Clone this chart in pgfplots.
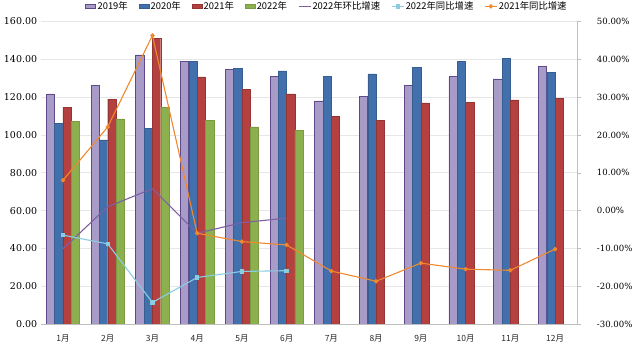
\documentclass[border=0pt]{standalone}
\usepackage{fontspec}
\setmainfont{DejaVu Serif}
\newfontfamily\cjk{Noto Sans CJK SC}
\usepackage{pgfplots}
\pgfplotsset{compat=1.18}
\definecolor{c19}{HTML}{A99BC8}
\definecolor{c19e}{HTML}{5E4A8A}
\definecolor{c20}{HTML}{4270AC}
\definecolor{c20e}{HTML}{365E91}
\definecolor{c21}{HTML}{B4413F}
\definecolor{c21e}{HTML}{953533}
\definecolor{c22}{HTML}{8DB04F}
\definecolor{c22e}{HTML}{7A9A43}
\definecolor{cpur}{HTML}{7D5FA3}
\definecolor{cblu}{HTML}{8ACCE0}
\definecolor{cora}{HTML}{F0892E}
\definecolor{gridc}{HTML}{E6E6E6}
\definecolor{axc}{HTML}{BFBFBF}
\pgfplotsset{
  barleg/.style={legend image code/.code={\draw[##1] (0bp,-2.2bp) rectangle (10bp,2.2bp);}},
  lineleg/.style={legend image code/.code={\draw[mark repeat=2,mark phase=2,##1] plot coordinates {(0bp,0bp)(6bp,0bp)(12bp,0bp)};}},
}
\begin{document}
\begin{tikzpicture}
\path[use as bounding box] (0,0) rectangle (644bp,351bp);
\begin{axis}[
  at={(40.6bp,27bp)}, anchor=south west,
  scale only axis, width=536.8bp, height=302.5bp,
  xmin=0.5, xmax=12.5, ymin=0, ymax=160,
  ybar=0pt, bar width=8.3bp,
  xtick={1,...,12},
  xticklabels={1月,2月,3月,4月,5月,6月,7月,8月,9月,10月,11月,12月},
  xticklabel style={font=\cjk\fontsize{8.5}{9}\selectfont, yshift=-3bp, text=black!85},
  ytick={0,20,...,160},
  /pgf/number format/assume math mode=true,
  yticklabel style={font=\fontsize{9.5}{10}\selectfont, /pgf/number format/.cd, fixed, fixed zerofill, precision=2},
  ymajorgrids, grid style={gridc, line width=0.6bp},
  axis x line*=bottom, axis y line*=left,
  x axis line style={axc, -},
  y axis line style={draw=none},
  tick style={draw=none},
]
\addplot[fill=c19, draw=c19e, line width=0.8bp] coordinates {(1,121.7)(2,126.1)(3,142.3)(4,139)(5,134.4)(6,130.7)(7,118)(8,120.5)(9,126.1)(10,130.9)(11,129.6)(12,136)};
\addplot[fill=c20, draw=c20e, line width=0.4bp] coordinates {(1,106.2)(2,97.4)(3,103.5)(4,139)(5,135.3)(6,133.9)(7,130.9)(8,132.3)(9,135.8)(10,139)(11,140.6)(12,133.2)};
\addplot[fill=c21, draw=c21e, line width=0.4bp] coordinates {(1,114.6)(2,118.9)(3,151.1)(4,130.7)(5,124)(6,121.7)(7,110)(8,107.6)(9,116.9)(10,117.3)(11,118.5)(12,119.4)};
\addplot[fill=c22, draw=c22e, line width=0.4bp] coordinates {(1,107.2)(2,108.5)(3,114.6)(4,107.9)(5,104.2)(6,102.3)};
\end{axis}
\begin{axis}[
  at={(40.6bp,27bp)}, anchor=south west,
  scale only axis, width=536.8bp, height=302.5bp,
  xmin=0.5, xmax=12.5, ymin=-30, ymax=50,
  axis x line=none, axis y line*=right,
  y axis line style={axc, -},
  ytick={-30,-20,...,50},
  /pgf/number format/assume math mode=true,
  yticklabel={\pgfmathprintnumber[fixed,fixed zerofill,precision=2]{\tick}\%},
  yticklabel style={font=\fontsize{8.6}{10}\selectfont, anchor=west, xshift=12bp},
  tick align=outside, major tick length=4bp, tick style={axc},
  legend columns=-1,
  legend style={at={(0.533,1.050)}, anchor=center, draw=none, fill=none,
    font=\cjk\fontsize{9.4}{10}\selectfont,
    nodes={inner xsep=1.5bp},
    /tikz/every odd column/.append style={column sep=0bp},
    /tikz/every even column/.append style={column sep=9.5bp}},
]
\addlegendimage{barleg, fill=c19, draw=c19e, line width=0.8bp}
\addlegendentry{2019年}
\addlegendimage{barleg, fill=c20, draw=c20e}
\addlegendentry{2020年}
\addlegendimage{barleg, fill=c21, draw=c21e}
\addlegendentry{2021年}
\addlegendimage{barleg, fill=c22, draw=c22e}
\addlegendentry{2022年}
\addplot[lineleg, cpur, line width=1.1bp, mark=none] coordinates {(1,-10.1)(2,1.0)(3,5.8)(4,-6.0)(5,-3.2)(6,-2.0)};
\addlegendentry{2022年环比增速}
\addplot[lineleg, cblu, line width=1.1bp, mark=square*, mark size=1.6bp] coordinates {(1,-6.5)(2,-8.8)(3,-24.3)(4,-17.7)(5,-16.1)(6,-15.9)};
\addlegendentry{2022年同比增速}
\addplot[lineleg, cora, line width=1.1bp, mark=*, mark size=1.6bp] coordinates {(1,8.0)(2,22.1)(3,46.3)(4,-6.0)(5,-8.2)(6,-9.1)(7,-16.0)(8,-18.7)(9,-13.9)(10,-15.5)(11,-15.8)(12,-10.2)};
\addlegendentry{2021年同比增速}
\end{axis}
\end{tikzpicture}
\end{document}
